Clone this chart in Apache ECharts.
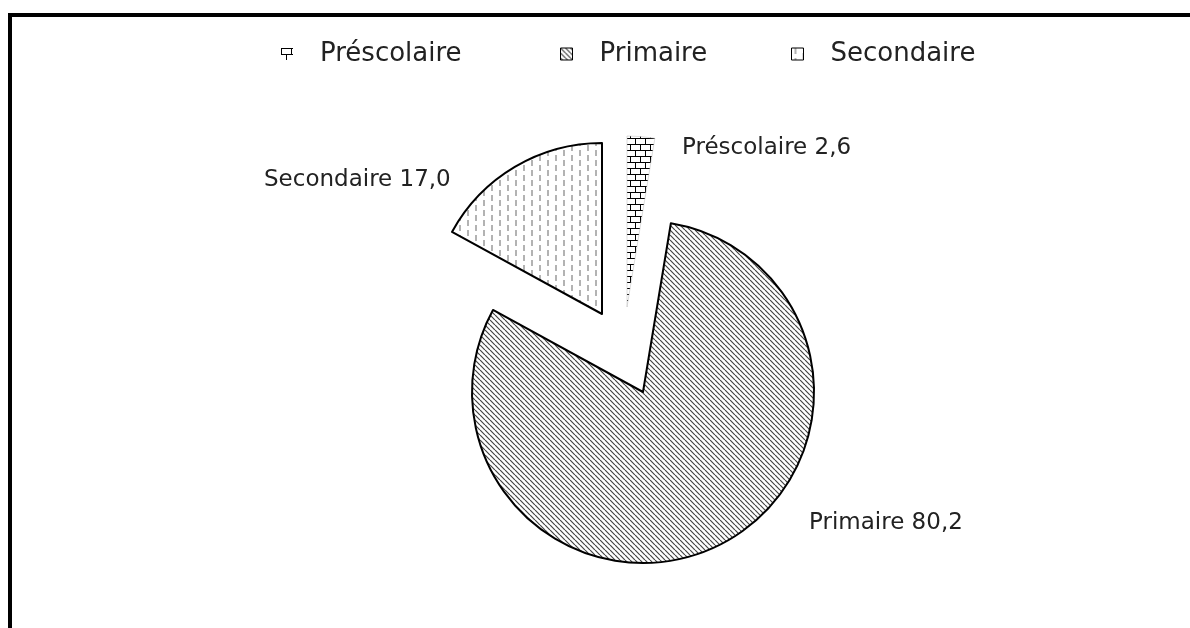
<!DOCTYPE html>
<html>
<head>
<meta charset="utf-8">
<title>Répartition par niveau</title>
<script src="https://cdn.jsdelivr.net/npm/echarts@6/dist/echarts.min.js"></script>
<style>
  html, body { margin: 0; padding: 0; background: #fff; overflow: hidden; }
  #frame {
    position: absolute; left: 8px; top: 13px; width: 1200px; height: 640px;
    border-left: 4px solid #000; border-top: 4px solid #000;
  }
  #chart { position: absolute; left: 0; top: 0; width: 1190px; height: 628px; }
</style>
</head>
<body>
<div id="frame"></div>
<div id="chart"></div>
<script>
// parts (%) by level of education
const categories = ['Préscolaire', 'Primaire', 'Secondaire']
const shares = [2.6, 80.2, 17.0]

const FONT = '"DejaVu Sans", "Liberation Sans", Arial, sans-serif'

// each slice is pulled out of the pie by its own amount, so every slice gets its own series
const sliceCenters = [[627, 307], [643, 392], [602, 314]]
const labelAt = [
  { x: 682, y: 148, align: 'left' },
  { x: 809, y: 523, align: 'left' },
  { x: 264, y: 180, align: 'left' }
]
// one legend box per entry, placed like the Excel legend
const legendLeft = [281, 560, 791]

function tile(w, h, draw) {
  const c = document.createElement('canvas')
  c.width = w
  c.height = h
  const ctx = c.getContext('2d')
  ctx.fillStyle = '#fff'
  ctx.fillRect(0, 0, w, h)
  draw(ctx, w, h)
  return { image: c, repeat: 'repeat' }
}

// brick
const brick = tile(10, 12, (ctx) => {
  ctx.strokeStyle = '#000'
  ctx.lineWidth = 1
  ctx.beginPath()
  ctx.moveTo(0, 0.5); ctx.lineTo(10, 0.5)
  ctx.moveTo(0, 6.5); ctx.lineTo(10, 6.5)
  ctx.moveTo(0.5, 0); ctx.lineTo(0.5, 6.5)
  ctx.moveTo(5.5, 6.5); ctx.lineTo(5.5, 12)
  ctx.stroke()
})

// dense diagonal hatch
const hatch = tile(5, 5, (ctx, w) => {
  ctx.strokeStyle = '#444'
  ctx.lineWidth = 1.2
  ctx.beginPath()
  for (let k = -1; k <= 1; k++) {
    ctx.moveTo(k * w, 0)
    ctx.lineTo(k * w + w, w)
  }
  ctx.stroke()
})

// staggered vertical dashes
const dashes = tile(16, 10, (ctx) => {
  ctx.strokeStyle = '#9a9a9a'
  ctx.lineWidth = 1.5
  ctx.beginPath()
  ctx.moveTo(4, 0); ctx.lineTo(4, 6)
  ctx.moveTo(12, 5); ctx.lineTo(12, 10)
  ctx.moveTo(12, 0); ctx.lineTo(12, 1)
  ctx.stroke()
})

const sliceStyles = [
  { color: brick, borderColor: '#bbb', borderWidth: 0.5, opacity: 1 },
  { color: hatch, borderColor: '#000', borderWidth: 2, opacity: 1 },
  { color: dashes, borderColor: '#000', borderWidth: 2, opacity: 1 }
]
const legendBorder = [0, 1, 1]

const fmt = (p) => p.name + ' ' + p.value.toFixed(1).replace('.', ',')

const chart = echarts.init(document.getElementById('chart'), null, { renderer: 'canvas' })

chart.setOption({
  backgroundColor: 'transparent',
  animation: false,
  legend: categories.map((name, i) => ({
    top: 41,
    left: legendLeft[i],
    padding: 0,
    itemWidth: 12,
    itemHeight: 12,
    selectedMode: false,
    textStyle: {
      fontFamily: FONT,
      fontSize: 26,
      color: '#222',
      padding: [0, 0, 0, 22]
    },
    data: [{
      name,
      icon: 'rect',
      itemStyle: Object.assign({}, sliceStyles[i], {
        borderColor: '#000',
        borderWidth: legendBorder[i],
        opacity: 1
      })
    }]
  })),
  series: categories.map((cat, k) => ({
    type: 'pie',
    name: cat,
    silent: true,
    radius: 171,
    center: sliceCenters[k],
    startAngle: 90,
    clockwise: true,
    avoidLabelOverlap: false,
    emphasis: { disabled: true },
    label: {
      show: true,
      position: 'outside',
      formatter: fmt,
      fontFamily: FONT,
      fontSize: 23,
      color: '#222'
    },
    labelLine: { show: false },
    labelLayout: (p) => ({
      x: labelAt[p.dataIndex].x,
      y: labelAt[p.dataIndex].y,
      align: labelAt[p.dataIndex].align,
      verticalAlign: 'middle'
    }),
    data: categories.map((name, i) => ({
      name,
      value: shares[i],
      itemStyle: i === k ? sliceStyles[i] : { opacity: 0 },
      label: { show: i === k }
    }))
  }))
})
</script>
</body>
</html>
